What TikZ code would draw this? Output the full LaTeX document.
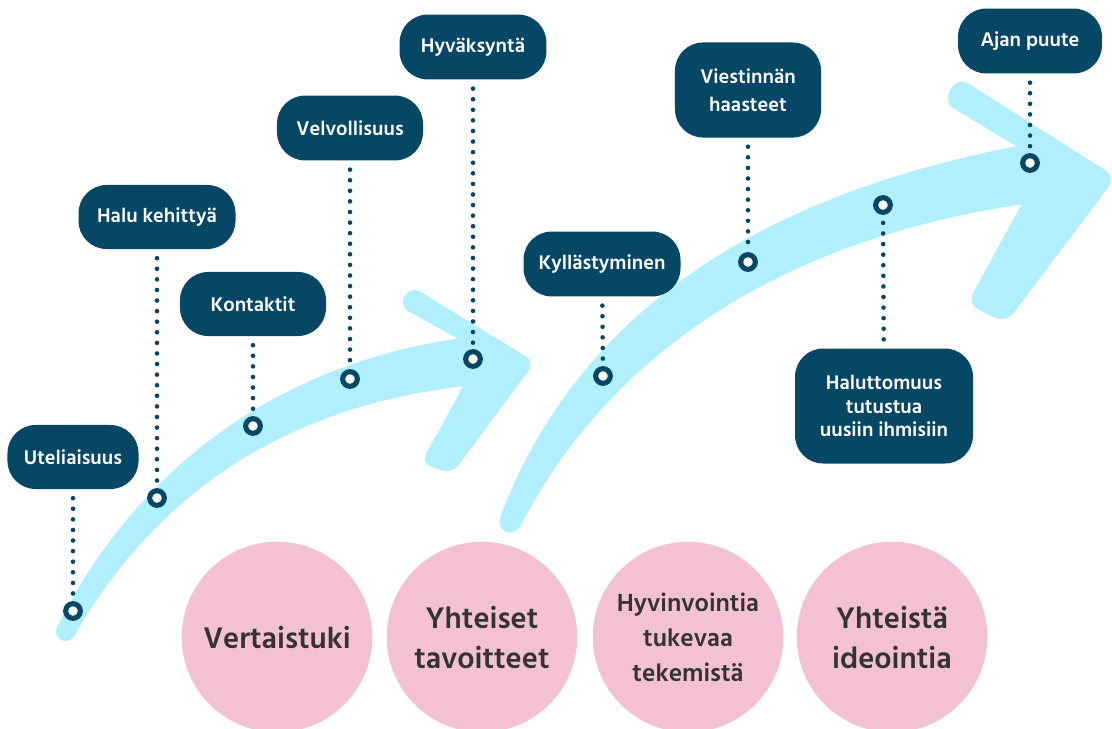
\documentclass[tikz,border=0pt]{standalone}
\usepackage{fontspec}
\setmainfont{Hind Siliguri}
\usepackage{tikz}
\usetikzlibrary{arrows}
\definecolor{petrol}{RGB}{5,71,100}
\definecolor{taivas}{RGB}{178,239,252}
\definecolor{ruusu}{RGB}{244,192,211}
\definecolor{harmaa}{RGB}{51,51,51}
\tikzset{
	laatikko/.style={fill=petrol, text=white, rounded corners=16pt, align=center, inner sep=0pt, font=\fontsize{11.5}{14}\selectfont\bfseries},
	piste/.style={circle, draw=petrol, fill=white, line width=2.9pt, minimum size=8.3pt, inner sep=0pt},
	pisteviiva/.style={draw=petrol, line width=2.6pt, line cap=round, dash pattern=on 0pt off 6pt, shorten <=5pt},
	pallo/.style={circle, fill=ruusu, text=harmaa, minimum size=108pt, align=center, inner sep=0pt, font=\fontsize{17.3}{22.7}\selectfont\bfseries}
}
\begin{document}
\begin{tikzpicture}[x=0.5669pt, y=-0.5669pt]
				\useasboundingbox (0,0) rectangle (1112,728);
				\fill[taivas] (57,627) .. controls (120,500) and (250,360) .. (485,335) -- (485,384) .. controls (240,405) and (130,540) .. (74,636) -- cycle;
				\fill[taivas] (65.5,631.5) circle (9.5);
				\fill[taivas, rounded corners=6pt] (411,286) -- (535,362) -- (452,474) -- (421,463) -- (482,352) -- (399,306) -- cycle;
				\fill[taivas] (500,517) .. controls (560,360) and (700,200) .. (1045,141) -- (1045,201) .. controls (740,240) and (590,390) .. (520,527) -- cycle;
				\fill[taivas] (510,522) circle (10.5);
				\fill[taivas, rounded corners=7pt] (958,77) -- (1116,177) -- (1006,323) -- (967,304) -- (1044,163) -- (943,102) -- cycle;
				\node[piste] (m1) at (73,611) {};
				\node[piste] (m2) at (157,498) {};
				\node[piste] (m3) at (253,426) {};
				\node[piste] (m4) at (350,379) {};
				\node[piste] (m5) at (473,359) {};
				\node[piste] (m6) at (603,376) {};
				\node[piste] (m7) at (748,262) {};
				\node[piste] (m8) at (883,205) {};
				\node[piste] (m9) at (1030,163) {};
				\node[laatikko, minimum width=74.3pt, minimum height=36.3pt] (b1) at (73,457) {Uteliaisuus};
				\node[laatikko, minimum width=89pt, minimum height=36.3pt] (b2) at (157,217) {Halu kehittyä};
				\node[laatikko, minimum width=82.8pt, minimum height=36.3pt] (b3) at (253,304) {Kontaktit};
				\node[laatikko, minimum width=82.8pt, minimum height=36.8pt] (b4) at (350,128) {Velvollisuus};
				\node[laatikko, minimum width=83.3pt, minimum height=36.8pt] (b5) at (473,47) {Hyväksyntä};
				\node[laatikko, minimum width=89pt, minimum height=36.8pt] (b6) at (602,264) {Kyllästyminen};
				\node[laatikko, minimum width=82.8pt, minimum height=53.9pt, font=\fontsize{11.5}{15.5}\selectfont\bfseries] (b7) at (748,90) {Viestinnän\\haasteet};
				\node[laatikko, minimum width=100.9pt, minimum height=65.2pt, font=\fontsize{11.5}{13.5}\selectfont\bfseries] (b8) at (884,406) {Haluttomuus\\tutustua\\uusiin ihmisiin};
				\node[laatikko, minimum width=81.6pt, minimum height=36.8pt] (b9) at (1030,41) {Ajan puute};
				\foreach \i in {1,...,9}
					\draw[pisteviiva] (b\i) -- (m\i);
				\node[pallo] (p1) at (277,637) {Vertaistuki};
				\node[pallo] (p2) at (482,637) {Yhteiset\\tavoitteet};
				\node[pallo, font=\fontsize{14.4}{19.8}\selectfont\bfseries] (p3) at (688,637) {Hyvinvointia\\tukevaa\\tekemistä};
				\node[pallo] (p4) at (892,637) {Yhteistä\\ideointia};
\end{tikzpicture}
\end{document}
